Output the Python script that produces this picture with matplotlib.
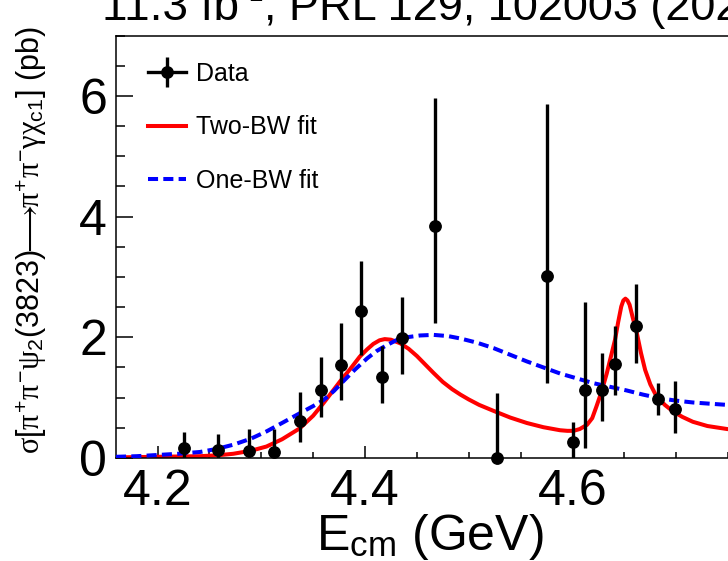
import matplotlib
matplotlib.use("Agg")
import matplotlib.pyplot as plt
from matplotlib.lines import Line2D
from matplotlib.ticker import MultipleLocator

plt.rcParams['font.family'] = ['Liberation Sans', 'DejaVu Sans']
plt.rcParams['mathtext.fontset'] = 'custom'
plt.rcParams['mathtext.rm'] = 'Liberation Sans'
plt.rcParams['mathtext.it'] = 'Liberation Serif'
plt.rcParams['mathtext.bf'] = 'Liberation Sans:bold'

# ---- data ----
energy = [4.226, 4.258, 4.288, 4.312, 4.337, 4.358, 4.377, 4.396, 4.416, 4.436,
          4.467, 4.527, 4.575, 4.600, 4.612, 4.628, 4.641, 4.661, 4.682, 4.699]
sigma = [0.17, 0.14, 0.12, 0.10, 0.62, 1.13, 1.54, 2.43, 1.35, 1.99,
         3.85, 0.00, 3.02, 0.27, 1.12, 1.12, 1.55, 2.18, 0.97, 0.81]
err_up = [0.26, 0.26, 0.36, 0.38, 0.48, 0.55, 0.69, 0.84, 0.51, 0.68,
          2.11, 1.07, 2.85, 0.33, 1.46, 0.62, 0.63, 0.71, 0.27, 0.47]
err_dn = [0.26, 0.26, 0.36, 0.38, 0.35, 0.45, 0.58, 0.72, 0.44, 0.60,
          1.62, 1.07, 1.78, 0.33, 0.96, 0.50, 0.51, 0.60, 0.26, 0.40]

two_bw_E = [4.16, 4.18, 4.20, 4.22, 4.241, 4.258, 4.273, 4.29, 4.305, 4.32,
            4.337, 4.35, 4.360, 4.368, 4.376, 4.386, 4.395, 4.402, 4.408, 4.414,
            4.419, 4.425, 4.434, 4.442, 4.450, 4.458, 4.466, 4.475, 4.484, 4.492,
            4.50, 4.51, 4.524, 4.54, 4.556, 4.572, 4.588, 4.595, 4.601, 4.607,
            4.614, 4.619, 4.623, 4.628, 4.633, 4.637, 4.641, 4.644, 4.647, 4.649,
            4.651, 4.653, 4.655, 4.658, 4.662, 4.666, 4.670, 4.675, 4.681, 4.689,
            4.697, 4.706, 4.716, 4.73, 4.749, 4.76]
two_bw = [0.01, 0.015, 0.02, 0.025, 0.03, 0.045, 0.07, 0.12, 0.19, 0.31,
          0.49, 0.70, 0.91, 1.09, 1.27, 1.48, 1.68, 1.80, 1.89, 1.95,
          1.97, 1.96, 1.90, 1.81, 1.69, 1.55, 1.41, 1.26, 1.14, 1.05,
          0.97, 0.88, 0.78, 0.67, 0.58, 0.51, 0.46, 0.45, 0.45, 0.48,
          0.55, 0.66, 0.85, 1.10, 1.40, 1.68, 1.96, 2.25, 2.51, 2.61,
          2.64, 2.61, 2.54, 2.33, 2.07, 1.74, 1.46, 1.22, 1.02, 0.88,
          0.77, 0.68, 0.60, 0.53, 0.48, 0.46]

one_bw_E = [4.16, 4.18, 4.20, 4.22, 4.241, 4.257, 4.273, 4.29, 4.305, 4.32,
            4.337, 4.35, 4.360, 4.37, 4.379, 4.39, 4.402, 4.411, 4.421, 4.430,
            4.440, 4.453, 4.466, 4.48, 4.492, 4.508, 4.524, 4.54, 4.556, 4.572,
            4.588, 4.604, 4.620, 4.636, 4.652, 4.668, 4.684, 4.70, 4.716, 4.732,
            4.749, 4.76]
one_bw = [0.02, 0.03, 0.05, 0.07, 0.10, 0.15, 0.22, 0.32, 0.44, 0.58,
          0.74, 0.86, 0.96, 1.11, 1.27, 1.46, 1.65, 1.77, 1.87, 1.95,
          2.00, 2.03, 2.04, 2.02, 1.98, 1.91, 1.82, 1.71, 1.60, 1.50,
          1.40, 1.32, 1.24, 1.18, 1.12, 1.05, 0.99, 0.95, 0.92, 0.90,
          0.88, 0.87]

title_main = "11.3 fb"
title_sup = "-1"
title_rest = ", PRL 129, 102003 (2022)"
xlabel_text = r"E$_{\mathrm{cm}}$ (GeV)"
ylabel_text = (r"$\sigma[\pi^{\mathrm{+}}\pi^{\mathrm{-}}\psi_{\mathrm{2}}\mathrm{(3823)}"
               r"\!\!\longrightarrow\!\!"
               r"\pi^{\mathrm{+}}\pi^{\mathrm{-}}\gamma\chi_{\mathrm{c1}}]$ (pb)")

# ---- figure ----
W, H = 728, 561
fig = plt.figure(figsize=(W / 100, H / 100), dpi=100)
left_px, right_px, top_px, bot_px = 115.5, 738.5, 35.5, 458.0
ax = fig.add_axes([left_px / W, 1 - bot_px / H,
                   (right_px - left_px) / W, (bot_px - top_px) / H])
ax.set_xlim(4.1595, 4.76)
ax.set_ylim(0, 7)

ax.plot(two_bw_E, two_bw, color='red', lw=2.9, zorder=2, solid_capstyle='butt')
ax.plot(one_bw_E, one_bw, color='blue', lw=2.9, dashes=(2.5, 1.3),
        dash_capstyle='butt', zorder=3)

ax.errorbar(energy, sigma, yerr=[err_dn, err_up], fmt='none', ecolor='black',
            elinewidth=2.4, capsize=0, zorder=4)
ax.plot(energy, sigma, 'o', color='black', ms=8.2, clip_on=False, zorder=5)

# ticks
ax.xaxis.set_major_locator(MultipleLocator(0.2))
ax.xaxis.set_minor_locator(MultipleLocator(0.05))
ax.yaxis.set_major_locator(MultipleLocator(2))
ax.yaxis.set_minor_locator(MultipleLocator(0.5))
ax.tick_params(axis='both', which='both', direction='in', top=False, right=False,
               width=1.1, labelsize=36)
ax.tick_params(axis='x', which='major', length=8.6, pad=8)
ax.tick_params(axis='x', which='minor', length=4.3)
ax.tick_params(axis='y', which='major', length=12.2, pad=6)
ax.tick_params(axis='y', which='minor', length=6.5)
for s in ax.spines.values():
    s.set_linewidth(1.1)

# labels
fig.text(430 / W, 11 / H, xlabel_text, fontsize=36, ha='center', va='baseline')
fig.text(32 / W, 1 - 240 / H, ylabel_text, fontsize=22, rotation=90,
         ha='center', va='center')

base_y = 1 - 20 / H
t1 = fig.text(102 / W, base_y, title_main, fontsize=33, ha='left', va='baseline')
t2 = ax.annotate(title_sup, xy=(1, base_y), xycoords=(t1, 'figure fraction'),
                 xytext=(1, 14), textcoords='offset points', fontsize=19,
                 ha='left', va='baseline', annotation_clip=False)
t3 = ax.annotate(title_rest, xy=(1, base_y), xycoords=(t2, 'figure fraction'),
                 xytext=(0, 0), textcoords='offset points', fontsize=32.5,
                 ha='left', va='baseline', annotation_clip=False)

# legend
h_data = (Line2D([], [], color='black', lw=2.4, marker='o', ms=8.2),
          Line2D([], [], color='black', ls='none', marker='|', ms=21, mew=2.4))
h_two = Line2D([], [], color='red', lw=2.9)
h_one = Line2D([], [], color='blue', lw=2.9, dashes=(2.5, 1.3), dash_capstyle='butt')
ax.legend([h_data, h_two, h_one], ['Data', 'Two-BW fit', 'One-BW fit'],
          loc='upper left', bbox_to_anchor=((148 - left_px) / (right_px - left_px),
                                            (bot_px - 62) / (bot_px - top_px)),
          frameon=False, fontsize=18, handlelength=1.5, handletextpad=0.4,
          labelspacing=1.18, borderpad=0, borderaxespad=0)

fig.savefig('out.png', dpi=100)
